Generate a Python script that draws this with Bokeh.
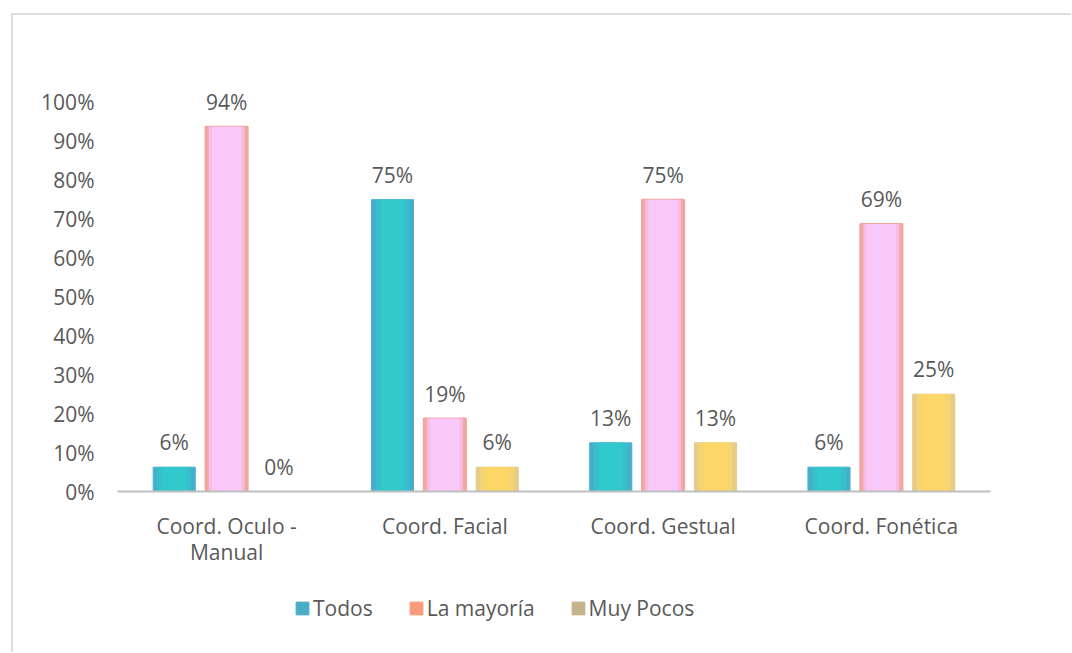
import math
from bokeh.plotting import figure
from bokeh.layouts import column
from bokeh.models import (ColumnDataSource, FactorRange, Range1d, FixedTicker,
                          NumeralTickFormatter, Legend, LegendItem)
from bokeh.transform import dodge
from bokeh.core.properties import value
from bokeh.embed import file_html
from bokeh.resources import INLINE

# ---- data ----
categories = ["Coord. Oculo -\nManual", "Coord. Facial", "Coord. Gestual", "Coord. Fonética"]
series_names = ["Todos", "La mayoría", "Muy Pocos"]
todos = [6.25, 75.0, 12.5, 6.25]
mayoria = [93.75, 18.75, 75.0, 68.75]
pocos = [0.0, 6.25, 12.5, 25.0]
y_ticks = [0, 0.1, 0.2, 0.3, 0.4, 0.5, 0.6, 0.7, 0.8, 0.9, 1.0]

FONT = "Open Sans"
TXT = "#595959"
FS = "21px"


def lab(v):
    return f"{int(math.floor(v + 0.5))}%"


src = ColumnDataSource(dict(
    cat=categories,
    todos=[v / 100 for v in todos],
    mayoria=[v / 100 for v in mayoria],
    pocos=[v / 100 for v in pocos],
    todos_lab=[lab(v) for v in todos],
    mayoria_lab=[lab(v) for v in mayoria],
    pocos_lab=[lab(v) for v in pocos],
))

p = figure(width=1058, height=565, output_backend="svg", toolbar_location=None,
           x_range=FactorRange(factors=categories, range_padding=0),
           y_range=Range1d(0, 1.2),
           min_border_left=104, min_border_right=81, min_border_top=9,
           min_border_bottom=89)
p.outline_line_color = None
p.xgrid.visible = False
p.ygrid.visible = False
p.background_fill_color = "white"
p.border_fill_color = "white"

OFF = 0.24
W = 0.193

# Todos bars (teal with blue edges)
x_t = dodge("cat", -OFF, range=p.x_range)
p.vbar(x=x_t, top="todos", width=W, source=src, fill_color="#45AFCB", line_color="#4FAED0", line_width=1)
p.vbar(x=x_t, top="todos", width=W * 0.8, source=src, fill_color="#38BFCC", line_color=None)
p.vbar(x=x_t, top="todos", width=W * 0.55, source=src, fill_color="#31C9CB", line_color=None)

# La mayoría bars (pink with salmon edges)
x_m = dodge("cat", 0, range=p.x_range)
p.vbar(x=x_m, top="mayoria", width=W, source=src, fill_color="#F3A8A4", line_color="#F2A59B", line_width=2)
p.vbar(x=x_m, top="mayoria", width=W * 0.85, source=src, fill_color="#F6BDE4", line_color=None)
p.vbar(x=x_m, top="mayoria", width=W * 0.7, source=src, fill_color="#F9C8F9", line_color=None)

# Muy Pocos bars (yellow with tan edges)
x_p = dodge("cat", OFF, range=p.x_range)
p.vbar(x=x_p, top="pocos", width=W, source=src, fill_color="#E6CC86", line_color="#E3CB8C", line_width=1)
p.vbar(x=x_p, top="pocos", width=W * 0.8, source=src, fill_color="#F5D474", line_color=None)
p.vbar(x=x_p, top="pocos", width=W * 0.55, source=src, fill_color="#FCD768", line_color=None)

# data labels
for xx, col in [(x_t, "todos"), (x_m, "mayoria"), (x_p, "pocos")]:
    p.text(x=xx, y=col, text=col + "_lab", source=src, text_align="center",
           text_baseline="middle", y_offset=-25, text_font=value(FONT),
           text_font_size=FS, text_color=TXT)

# axes
xa = p.xaxis[0]
xa.axis_line_color = "#BFBFBF"
xa.axis_line_width = 2
xa.major_tick_line_color = None
xa.minor_tick_line_color = None
xa.major_label_standoff = 14
xa.major_label_text_font = FONT
xa.major_label_text_font_size = FS
xa.major_label_text_color = TXT
xa.major_label_text_line_height = 0.95

ya = p.yaxis[0]
ya.axis_line_color = None
ya.major_tick_line_color = None
ya.minor_tick_line_color = None
ya.ticker = FixedTicker(ticks=y_ticks)
ya.formatter = NumeralTickFormatter(format="0%")
ya.major_label_standoff = 17
ya.major_label_text_font = FONT
ya.major_label_text_font_size = FS
ya.major_label_text_color = TXT

# legend in its own strip below the chart (solid swatches)
legend_colors = ["#4BACC6", "#F79B7C", "#C4B48B"]
pl = figure(width=1058, height=72, output_backend="svg", toolbar_location=None,
            x_axis_location=None, y_axis_location=None,
            min_border=0, x_range=p.x_range, y_range=Range1d(0, 1))
pl.outline_line_color = None
pl.xgrid.visible = False
pl.ygrid.visible = False
items = []
for name, c, xx, col in zip(series_names, legend_colors, [x_t, x_m, x_p],
                            ["todos", "mayoria", "pocos"]):
    r = pl.vbar(x=xx, top=col, width=W, source=src, fill_color=c, line_color=c)
    r.visible = False
    items.append(LegendItem(label=name, renderers=[r]))

leg = Legend(items=items, orientation="horizontal", location=(177, 30),
             border_line_color=None, background_fill_alpha=0,
             inactive_fill_alpha=0,
             label_text_font=FONT, label_text_font_size=FS, label_text_color=TXT,
             glyph_width=16, glyph_height=16, label_standoff=3, spacing=35,
             padding=0, margin=0)
pl.add_layout(leg, "center")

layout = column(p, pl, spacing=0,
                styles={"margin-left": "11px", "margin-top": "13px",
                        "border-left": "2px solid #DEDEDE",
                        "border-top": "2px solid #DEDEDE"})

open("out.html", "w").write(file_html(layout, INLINE))
